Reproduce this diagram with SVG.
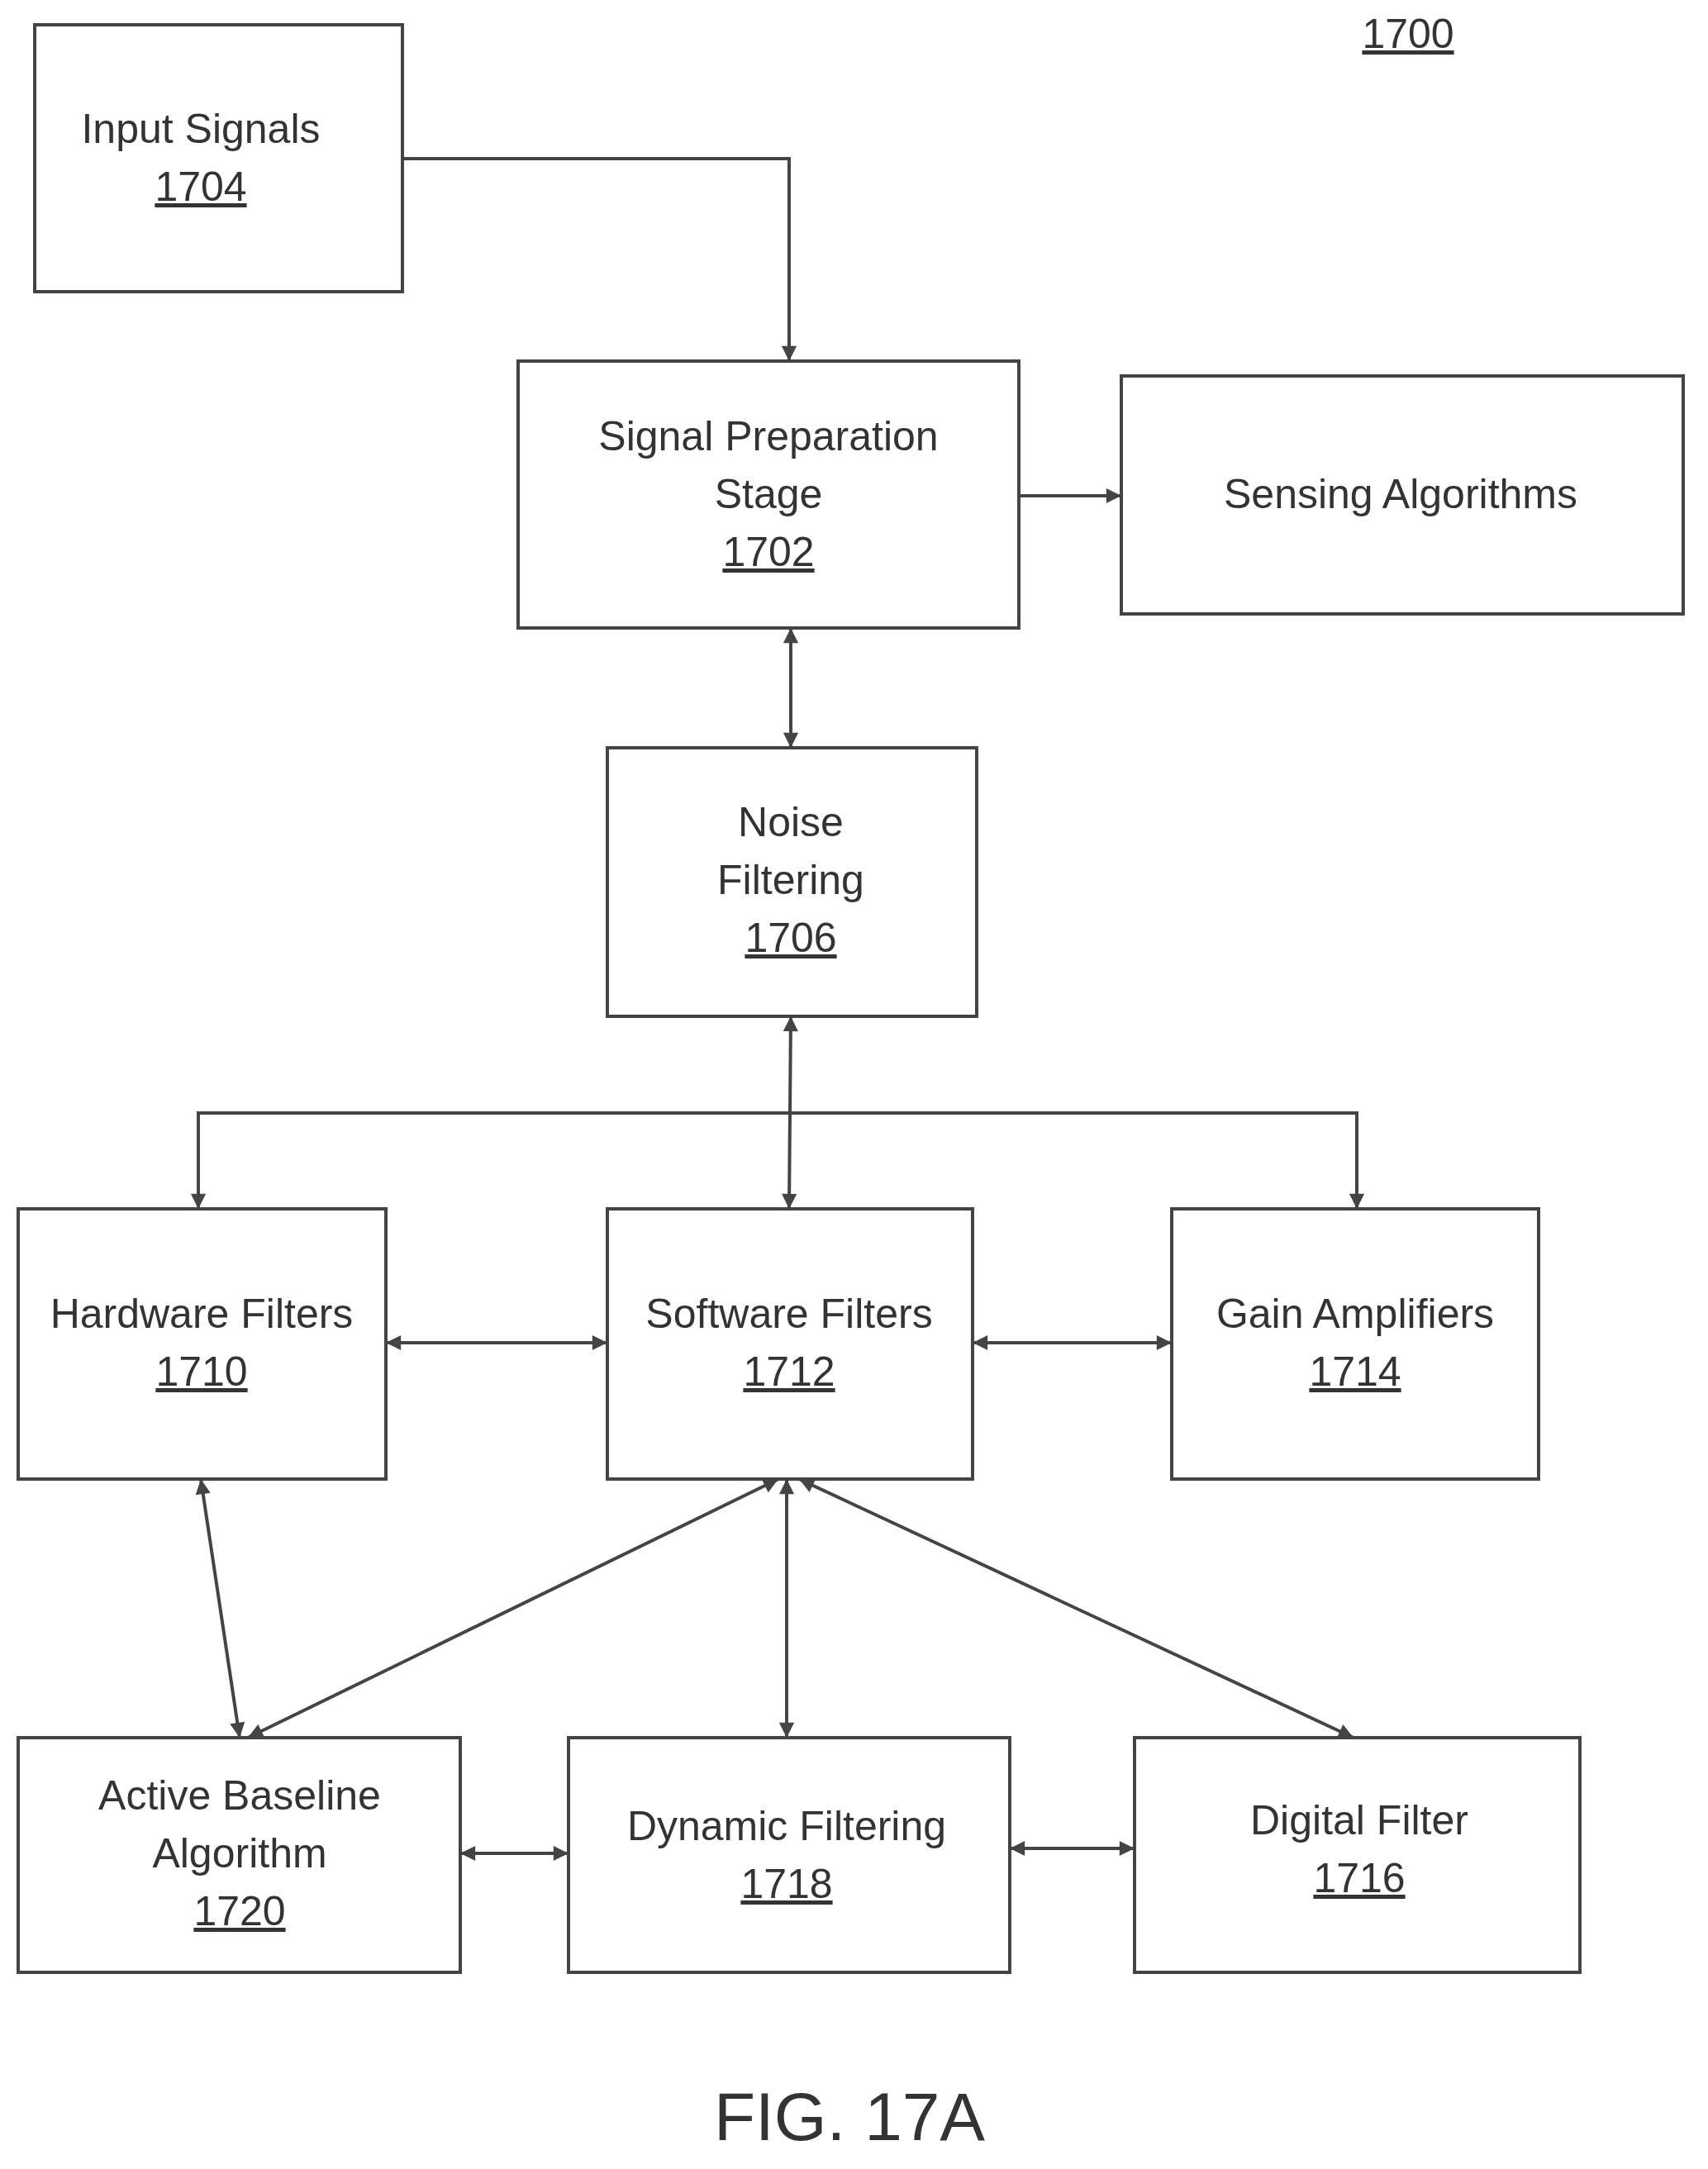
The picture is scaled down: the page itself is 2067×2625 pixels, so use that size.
<svg xmlns="http://www.w3.org/2000/svg" width="2067" height="2625" viewBox="0 0 2067 2625">
<style>
rect{fill:#fff;stroke:#444;stroke-width:4}
text{font-family:"Liberation Sans",Arial,sans-serif;font-size:50px;fill:#333;text-anchor:middle}
.u{text-decoration:underline}
#connectors path,#connectors line{stroke:#444;stroke-width:4;fill:none}
</style>
<defs>
<marker id="a" viewBox="0 0 10 10" refX="10" refY="5" markerWidth="7" markerHeight="7" orient="auto-start-reverse" markerUnits="userSpaceOnUse" style="overflow:visible"><path d="M0,0 L10,5 L0,10 z" fill="#444" transform="scale(2.6)" transform-origin="10 5"/></marker>
</defs>
<rect width="2067" height="2625" style="fill:#fff;stroke:none"/>
<text x="1704" y="58" class="u">1700</text>
<g id="n1704"><rect x="42" y="30" width="445" height="323"/><text x="243" y="173">Input Signals</text><text x="243" y="243" class="u">1704</text></g>
<g id="n1702"><rect x="627" y="437" width="606" height="323"/><text x="930" y="545">Signal Preparation</text><text x="930" y="615">Stage</text><text x="930" y="685" class="u">1702</text></g>
<g id="nSens"><rect x="1357" y="455" width="680" height="288"/><text x="1695" y="615">Sensing Algorithms</text></g>
<g id="n1706"><rect x="735" y="905" width="447" height="325"/><text x="957" y="1012">Noise</text><text x="957" y="1082">Filtering</text><text x="957" y="1152" class="u">1706</text></g>
<g id="n1710"><rect x="22" y="1463" width="445" height="327"/><text x="244" y="1607">Hardware Filters</text><text x="244" y="1677" class="u">1710</text></g>
<g id="n1712"><rect x="735" y="1463" width="442" height="327"/><text x="955" y="1607">Software Filters</text><text x="955" y="1677" class="u">1712</text></g>
<g id="n1714"><rect x="1418" y="1463" width="444" height="327"/><text x="1640" y="1607">Gain Amplifiers</text><text x="1640" y="1677" class="u">1714</text></g>
<g id="n1720"><rect x="22" y="2103" width="535" height="284"/><text x="290" y="2190">Active Baseline</text><text x="290" y="2260">Algorithm</text><text x="290" y="2330" class="u">1720</text></g>
<g id="n1718"><rect x="688" y="2103" width="534" height="284"/><text x="952" y="2227">Dynamic Filtering</text><text x="952" y="2297" class="u">1718</text></g>
<g id="n1716"><rect x="1373" y="2103" width="539" height="284"/><text x="1645" y="2220">Digital Filter</text><text x="1645" y="2290" class="u">1716</text></g>
<g id="connectors">
<path d="M487,192 H955 V437" marker-end="url(#a)"/>
<line x1="1233" y1="600" x2="1357" y2="600" marker-end="url(#a)"/>
<line x1="957" y1="760" x2="957" y2="905" marker-start="url(#a)" marker-end="url(#a)"/>
<line x1="957" y1="1230" x2="955" y2="1463" marker-start="url(#a)" marker-end="url(#a)"/>
<path d="M240,1463 V1347 H1642 V1463" marker-start="url(#a)" marker-end="url(#a)"/>
<line x1="467" y1="1625" x2="735" y2="1625" marker-start="url(#a)" marker-end="url(#a)"/>
<line x1="1177" y1="1625" x2="1418" y2="1625" marker-start="url(#a)" marker-end="url(#a)"/>
<line x1="243" y1="1790" x2="290" y2="2103" marker-start="url(#a)" marker-end="url(#a)"/>
<line x1="942" y1="1790" x2="300" y2="2103" marker-start="url(#a)" marker-end="url(#a)"/>
<line x1="952" y1="1790" x2="952" y2="2103" marker-start="url(#a)" marker-end="url(#a)"/>
<line x1="967" y1="1790" x2="1638" y2="2103" marker-start="url(#a)" marker-end="url(#a)"/>
<line x1="557" y1="2243" x2="688" y2="2243" marker-start="url(#a)" marker-end="url(#a)"/>
<line x1="1222" y1="2237" x2="1373" y2="2237" marker-start="url(#a)" marker-end="url(#a)"/>
</g>
<text x="1028" y="2590" style="font-size:82px">FIG. 17A</text>
</svg>
